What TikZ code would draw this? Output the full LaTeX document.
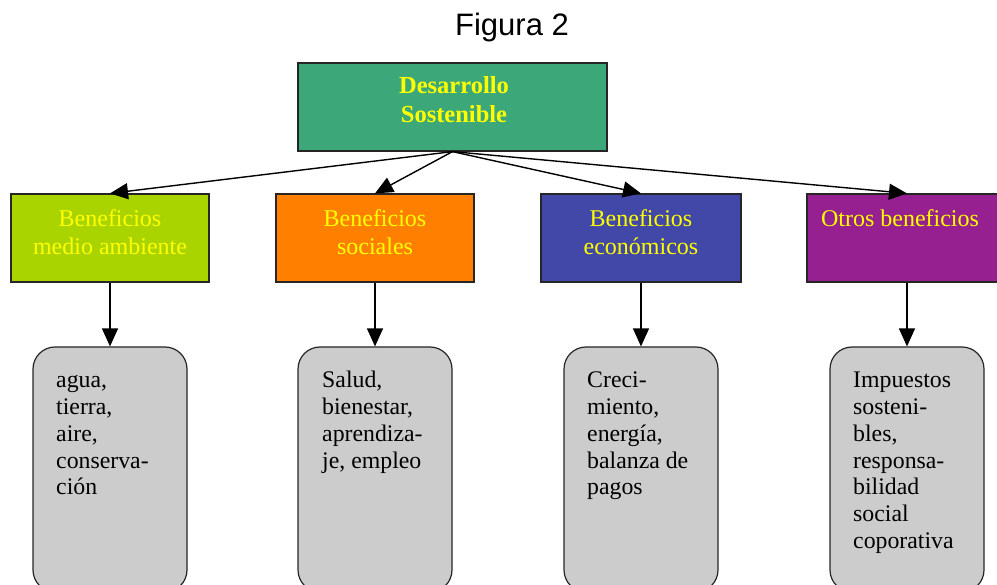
\documentclass[tikz,border=0pt]{standalone}
\usepackage{fontspec}
\setmainfont{Liberation Serif}
\newfontfamily\titlefont{Liberation Sans}
\usetikzlibrary{arrows.meta}
\definecolor{topgreen}{RGB}{60,168,122}
\definecolor{limeg}{RGB}{170,212,0}
\definecolor{orng}{RGB}{255,128,0}
\definecolor{blu}{RGB}{66,72,168}
\definecolor{purp}{RGB}{150,32,144}
\definecolor{gry}{RGB}{204,204,204}
\definecolor{ylw}{RGB}{255,255,0}
\tikzset{
  sqbox/.style={draw=black!85, line width=1.2pt, minimum width=198pt, minimum height=88pt, inner sep=0pt},
  rbox/.style={draw=black!85, fill=gry, line width=1.2pt, rounded corners=22pt, minimum width=154pt, minimum height=245pt, inner sep=0pt},
  hdtext/.style={text=ylw, inner sep=0pt, anchor=base, font=\fontsize{24}{27.5}\selectfont},
  bodytext/.style={text=black, inner sep=0pt, anchor=base west, font=\fontsize{23.8}{26.7}\selectfont},
  arr/.style={line width=1.4pt, -{Triangle[length=18pt,width=16pt]}}
}
\begin{document}
\begin{tikzpicture}[x=1pt,y=-1pt]
\useasboundingbox (0,0) rectangle (997,585);
\clip (0,0) rectangle (997,585);
% title
\node[inner sep=0pt, anchor=base, font=\titlefont\fontsize{31}{36}\selectfont] (title) at (512,36) {Figura 2};
% top box
\node[sqbox, fill=topgreen, minimum width=309pt] (top) at (452.5,107) {};
\node[hdtext, font=\bfseries\fontsize{24.5}{29}\selectfont] (toptext) at (454,94) {\begin{tabular}[t]{@{}c@{}}Desarrollo\\Sostenible\end{tabular}};
% middle boxes
\node[sqbox, fill=limeg] (b1) at (110,238) {};
\node[sqbox, fill=orng] (b2) at (375,238) {};
\node[sqbox, fill=blu, minimum width=200pt] (b3) at (641,238) {};
\node[sqbox, fill=purp, minimum width=200pt] (b4) at (907,238) {};
\node[hdtext] (b1t) at (110,227) {\begin{tabular}[t]{@{}c@{}}Beneficios\\medio ambiente\end{tabular}};
\node[hdtext] (b2t) at (375,227) {\begin{tabular}[t]{@{}c@{}}Beneficios\\sociales\end{tabular}};
\node[hdtext] (b3t) at (641,227) {\begin{tabular}[t]{@{}c@{}}Beneficios\\económicos\end{tabular}};
\node[hdtext] (b4t) at (900,227) {Otros beneficios};
% bottom boxes
\node[rbox] (c1) at (110,469.5) {};
\node[rbox] (c2) at (375,469.5) {};
\node[rbox] (c3) at (641,469.5) {};
\node[rbox] (c4) at (907,469.5) {};
\node[bodytext] (c1t) at (56,388) {\begin{tabular}[t]{@{}l@{}}agua,\\tierra,\\aire,\\conserva-\\ción\end{tabular}};
\node[bodytext] (c2t) at (322,388) {\begin{tabular}[t]{@{}l@{}}Salud,\\bienestar,\\aprendiza-\\je, empleo\end{tabular}};
\node[bodytext] (c3t) at (587,388) {\begin{tabular}[t]{@{}l@{}}Creci-\\miento,\\energía,\\balanza de\\pagos\end{tabular}};
\node[bodytext] (c4t) at (853,388) {\begin{tabular}[t]{@{}l@{}}Impuestos\\sosteni-\\bles,\\responsa-\\bilidad\\social\\coporativa\end{tabular}};
% connectors
\draw[arr] (top.south) -- (b1.north);
\draw[arr] (top.south) -- (b2.north);
\draw[arr] (top.south) -- (b3.north);
\draw[arr] (top.south) -- (b4.north);
\draw[arr] (b1.south) -- (c1.north);
\draw[arr] (b2.south) -- (c2.north);
\draw[arr] (b3.south) -- (c3.north);
\draw[arr] (b4.south) -- (c4.north);
\end{tikzpicture}
\end{document}
